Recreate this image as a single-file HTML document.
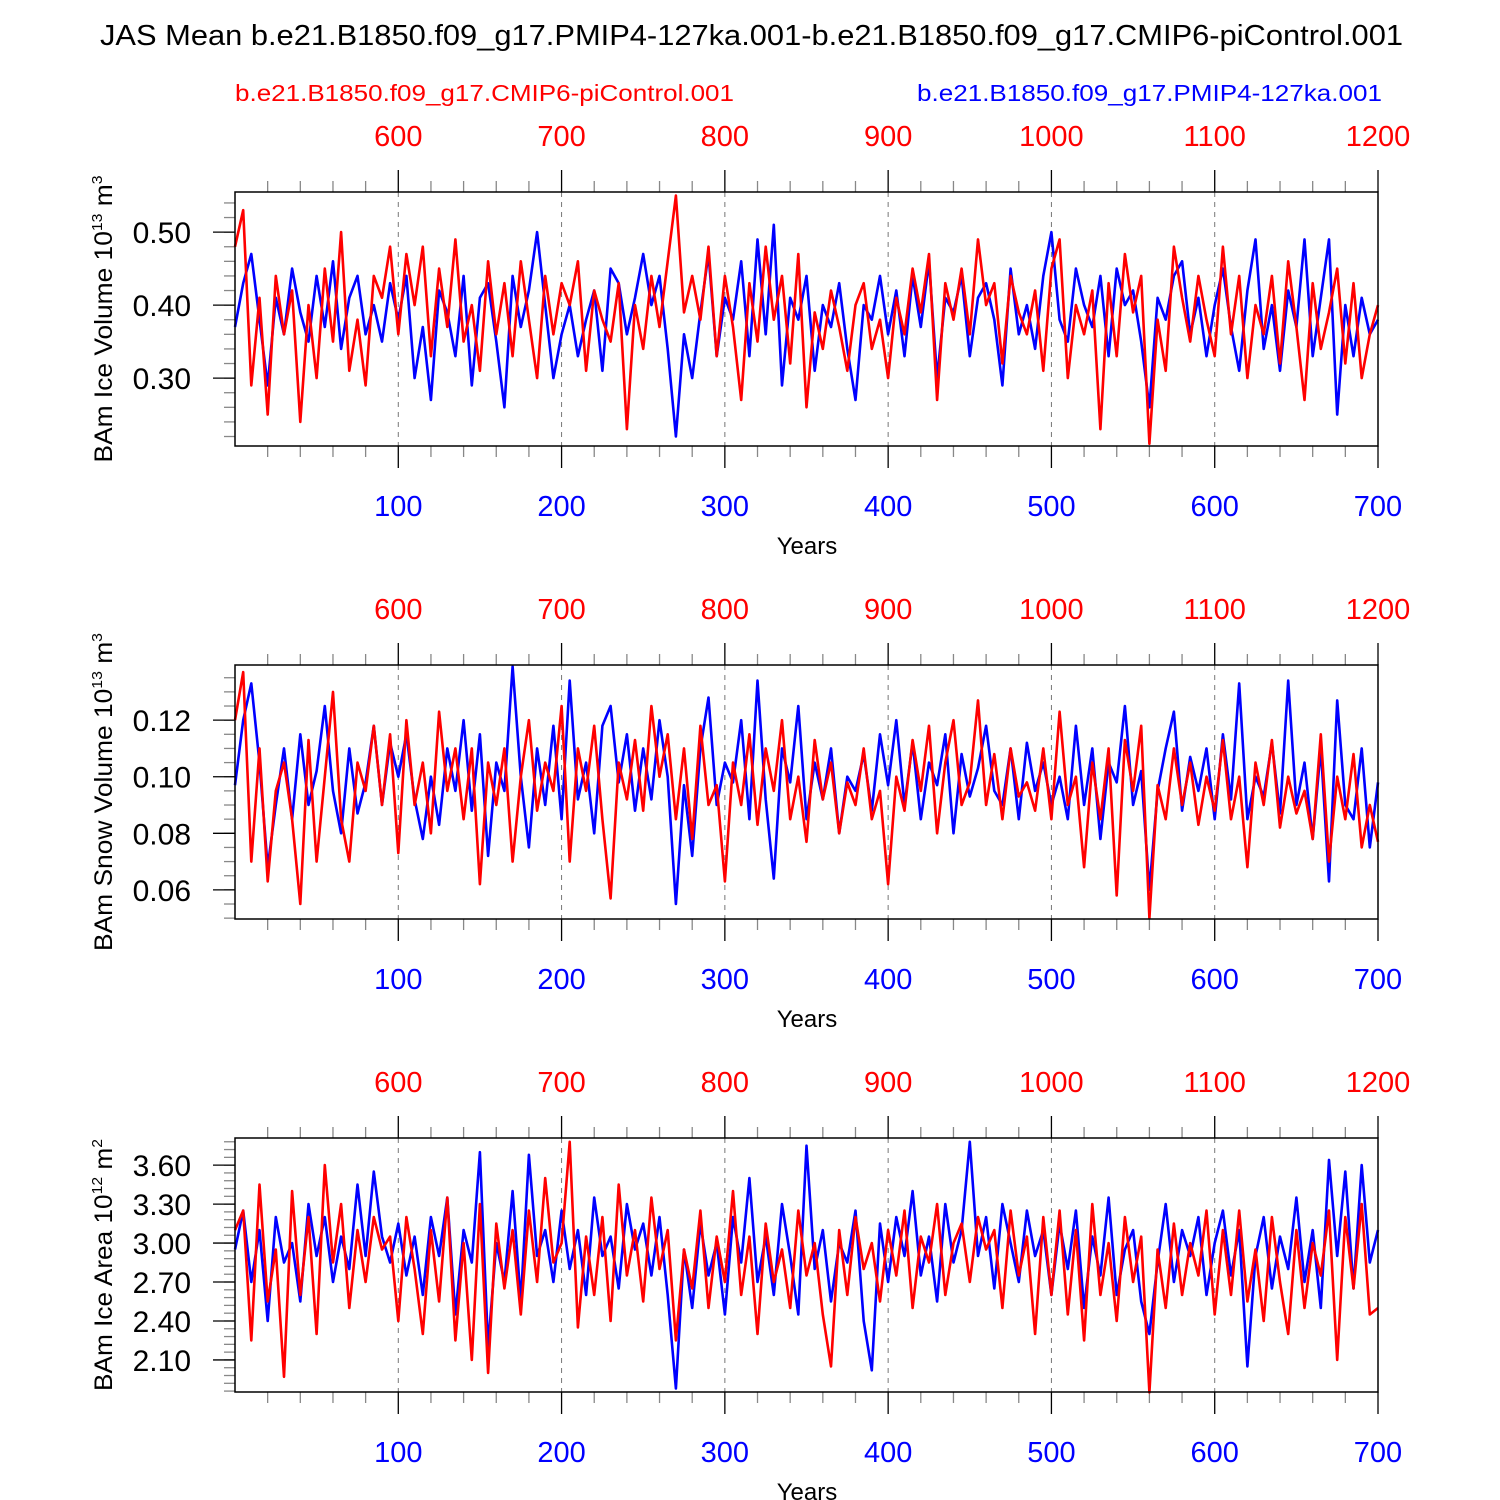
<!DOCTYPE html>
<html><head><meta charset="utf-8"><style>
html,body{margin:0;padding:0;background:#fff}
svg{display:block;font-family:"Liberation Sans",Arial,sans-serif}
</style></head><body>
<svg id="chart" width="1500" height="1500" viewBox="0 0 1500 1500">
<text x="100" y="45" textLength="1303" lengthAdjust="spacingAndGlyphs" font-size="29" fill="#000">JAS Mean b.e21.B1850.f09_g17.PMIP4-127ka.001-b.e21.B1850.f09_g17.CMIP6-piControl.001</text>
<text x="235" y="101" textLength="499" lengthAdjust="spacingAndGlyphs" font-size="23" fill="#f00">b.e21.B1850.f09_g17.CMIP6-piControl.001</text>
<text x="917" y="101" textLength="465" lengthAdjust="spacingAndGlyphs" font-size="23" fill="#00f">b.e21.B1850.f09_g17.PMIP4-127ka.001</text>
</svg>
<script>
const years=[100,200,300,400,500,600,700];
const topYears=[600,700,800,900,1000,1100,1200];
const iceVolTicks=[0.30,0.40,0.50];
const snowVolTicks=[0.06,0.08,0.10,0.12];
const iceAreaTicks=[2.10,2.40,2.70,3.00,3.30,3.60];
const iceVolBlue=[0.37,0.43,0.47,0.38,0.29,0.41,0.36,0.45,0.39,0.35,0.44,0.37,0.46,0.34,0.41,0.44,0.36,0.40,0.35,0.43,0.38,
0.44,0.30,0.37,0.27,0.42,0.39,0.33,0.44,0.29,0.41,0.43,0.35,0.26,0.44,0.37,0.42,0.50,0.40,0.30,0.36,
0.40,0.33,0.38,0.42,0.31,0.45,0.43,0.36,0.41,0.47,0.40,0.44,0.34,0.22,0.36,0.30,0.39,0.47,0.33,0.41,
0.38,0.46,0.33,0.49,0.36,0.51,0.29,0.41,0.38,0.44,0.31,0.40,0.37,0.43,0.34,0.27,0.40,0.38,0.44,0.36,
0.42,0.33,0.44,0.37,0.46,0.30,0.41,0.39,0.44,0.33,0.41,0.43,0.38,0.29,0.45,0.36,0.40,0.34,0.44,0.50,
0.38,0.35,0.45,0.40,0.37,0.44,0.33,0.45,0.40,0.42,0.35,0.26,0.41,0.38,0.44,0.46,0.36,0.41,0.33,0.40,
0.45,0.37,0.31,0.42,0.49,0.34,0.40,0.31,0.42,0.37,0.49,0.33,0.41,0.49,0.25,0.40,0.33,0.41,0.36,0.38];
const iceVolRed=[0.48,0.53,0.29,0.41,0.25,0.44,0.36,0.42,0.24,0.40,0.30,0.45,0.35,0.50,0.31,0.38,0.29,0.44,0.41,0.48,0.36,
0.47,0.40,0.48,0.33,0.45,0.37,0.49,0.35,0.40,0.31,0.46,0.36,0.43,0.33,0.46,0.38,0.30,0.44,0.36,0.43,
0.40,0.46,0.31,0.42,0.38,0.35,0.43,0.23,0.40,0.34,0.44,0.37,0.46,0.55,0.39,0.44,0.38,0.48,0.33,0.44,
0.37,0.27,0.43,0.35,0.48,0.38,0.44,0.32,0.47,0.26,0.39,0.34,0.42,0.37,0.31,0.40,0.43,0.34,0.38,0.30,
0.41,0.36,0.45,0.39,0.47,0.27,0.43,0.38,0.45,0.36,0.49,0.40,0.43,0.32,0.44,0.39,0.36,0.42,0.31,0.45,
0.49,0.30,0.40,0.36,0.42,0.23,0.43,0.33,0.47,0.39,0.44,0.21,0.38,0.31,0.48,0.41,0.35,0.44,0.38,0.33,
0.48,0.36,0.44,0.30,0.40,0.36,0.44,0.32,0.46,0.37,0.27,0.43,0.34,0.39,0.45,0.32,0.43,0.30,0.36,0.40];
const snowVolBlue=[0.097,0.12,0.133,0.105,0.068,0.09,0.11,0.085,0.115,0.09,0.102,0.125,0.095,0.08,0.11,0.087,0.098,0.118,0.09,0.112,0.10,
0.115,0.092,0.078,0.10,0.083,0.11,0.095,0.12,0.088,0.115,0.072,0.105,0.095,0.139,0.10,0.075,0.11,0.09,0.118,0.085,
0.134,0.092,0.105,0.08,0.118,0.125,0.098,0.115,0.088,0.11,0.092,0.12,0.10,0.055,0.097,0.072,0.11,0.128,0.09,0.105,
0.098,0.12,0.085,0.134,0.092,0.064,0.11,0.098,0.125,0.085,0.105,0.092,0.11,0.08,0.10,0.095,0.108,0.088,0.115,0.097,
0.12,0.09,0.112,0.085,0.105,0.097,0.115,0.08,0.108,0.093,0.103,0.118,0.095,0.09,0.11,0.085,0.112,0.095,0.105,0.09,
0.10,0.085,0.118,0.09,0.11,0.078,0.105,0.098,0.125,0.09,0.102,0.06,0.095,0.11,0.123,0.088,0.107,0.095,0.11,0.085,
0.115,0.092,0.133,0.085,0.10,0.093,0.112,0.087,0.134,0.09,0.105,0.078,0.11,0.063,0.127,0.09,0.085,0.11,0.075,0.098];
const snowVolRed=[0.12,0.137,0.07,0.11,0.063,0.095,0.105,0.085,0.055,0.113,0.07,0.10,0.13,0.085,0.07,0.105,0.095,0.118,0.09,0.115,0.073,
0.12,0.09,0.105,0.08,0.123,0.095,0.11,0.085,0.11,0.062,0.105,0.09,0.11,0.07,0.10,0.12,0.088,0.105,0.095,0.125,
0.07,0.11,0.095,0.118,0.085,0.057,0.105,0.092,0.113,0.088,0.125,0.10,0.115,0.085,0.11,0.078,0.118,0.09,0.097,0.063,
0.105,0.09,0.115,0.083,0.11,0.095,0.12,0.085,0.10,0.077,0.113,0.092,0.105,0.08,0.098,0.09,0.11,0.085,0.095,0.062,
0.10,0.088,0.113,0.095,0.118,0.08,0.105,0.12,0.09,0.098,0.127,0.09,0.108,0.085,0.11,0.093,0.098,0.088,0.11,0.085,
0.123,0.09,0.10,0.068,0.105,0.085,0.11,0.058,0.113,0.095,0.118,0.05,0.097,0.085,0.11,0.09,0.105,0.083,0.10,0.088,
0.113,0.085,0.10,0.068,0.105,0.09,0.113,0.082,0.10,0.087,0.095,0.078,0.115,0.07,0.10,0.085,0.108,0.075,0.09,0.077];
const iceAreaBlue=[2.95,3.25,2.7,3.1,2.4,3.2,2.85,3.0,2.55,3.3,2.9,3.2,2.7,3.05,2.8,3.45,2.9,3.55,3.05,2.85,3.15,
2.75,3.05,2.6,3.2,2.9,3.35,2.45,3.1,2.85,3.7,2.2,3.0,2.7,3.4,2.55,3.68,2.9,3.1,2.7,3.25,
2.8,3.1,2.6,3.35,2.9,3.05,2.65,3.3,2.95,3.15,2.75,3.2,2.6,1.88,2.95,2.5,3.15,2.75,3.0,2.45,
3.2,2.85,3.5,2.7,3.05,2.6,3.3,2.9,2.45,3.75,2.8,3.1,2.55,3.0,2.85,3.25,2.4,2.02,3.15,2.7,
3.2,2.9,3.4,2.75,3.05,2.55,3.3,2.85,3.1,3.78,2.9,3.2,2.65,3.3,3.0,2.7,3.25,2.9,3.1,2.6,
3.15,2.8,3.25,2.5,3.05,2.75,3.35,2.6,2.95,3.1,2.55,2.3,2.85,3.3,2.7,3.1,2.9,3.2,2.6,3.0,
3.25,2.75,3.1,2.05,2.9,3.2,2.65,3.05,2.8,3.35,2.7,3.1,2.5,3.64,2.9,3.55,2.65,3.6,2.85,3.1];
const iceAreaRed=[3.1,3.25,2.25,3.45,2.55,2.95,1.97,3.4,2.6,3.2,2.3,3.6,2.85,3.3,2.5,3.1,2.7,3.2,2.95,3.05,2.4,
3.2,2.8,2.3,3.1,2.55,3.35,2.25,3.0,2.1,3.3,2.0,3.15,2.65,3.1,2.45,3.25,2.7,3.5,2.85,3.0,
3.78,2.35,3.05,2.6,3.2,2.4,3.45,2.75,3.1,2.55,3.35,2.8,3.1,2.25,2.95,2.65,3.25,2.5,3.05,2.7,
3.4,2.6,3.05,2.3,3.15,2.7,2.95,2.5,3.25,2.75,3.0,2.45,2.05,3.1,2.6,3.2,2.8,3.0,2.55,3.1,
2.75,3.25,2.5,3.05,2.85,3.3,2.6,3.0,3.15,2.7,3.2,2.95,3.1,2.5,3.25,2.75,3.05,2.3,3.2,2.6,
3.25,2.45,3.1,2.25,3.3,2.6,3.0,2.4,3.2,2.7,3.05,1.85,2.95,2.5,3.15,2.6,3.0,2.75,3.25,2.45,
3.1,2.6,3.25,2.55,2.95,2.4,3.2,2.7,2.3,3.1,2.5,3.0,2.75,3.25,2.1,3.2,2.65,3.3,2.45,2.5];

const NS='http://www.w3.org/2000/svg';
const svg=document.getElementById('chart');
function mk(tag,attrs,parent){const e=document.createElementNS(NS,tag);for(const k in attrs)e.setAttribute(k,attrs[k]);(parent||svg).appendChild(e);return e;}
const X0=235,X1=1378;
function xs(yr){return X0+(yr/700)*(X1-X0);}

const panels=[
 {top:192,ymin:0.207,ymax:0.555,ticks:iceVolTicks,minor:0.02,dec:2,blue:iceVolBlue,red:iceVolRed,title:'BAm Ice Volume 10',exp:'13',unit:' m',uexp:'3',name:'ice-volume',tl:287},
 {top:665,ymin:0.0497,ymax:0.1395,ticks:snowVolTicks,minor:0.005,dec:2,blue:snowVolBlue,red:snowVolRed,title:'BAm Snow Volume 10',exp:'13',unit:' m',uexp:'3',name:'snow-volume',tl:318},
 {top:1138,ymin:1.853,ymax:3.809,ticks:iceAreaTicks,minor:0.06,dec:2,blue:iceAreaBlue,red:iceAreaRed,title:'BAm Ice Area 10',exp:'12',unit:' m',uexp:'2',name:'ice-area',tl:252}
];
const H=254;
panels.forEach(p=>{
 const g=mk('g',{});
 
 
 const Y0=p.top,Y1=p.top+H;
 const ys=v=>Y1-(v-p.ymin)/(p.ymax-p.ymin)*H;
 years.slice(0,6).forEach(yr=>{const l=mk('line',{x1:xs(yr),x2:xs(yr),y1:Y0,y2:Y1,stroke:'#777','stroke-width':1,'stroke-dasharray':'5,5'},g);
  
  });
 for(let yr=20;yr<700;yr+=20){if(yr%100===0)continue;const x=xs(yr);
  mk('line',{x1:x,x2:x,y1:Y1,y2:Y1+11,stroke:'#888','stroke-width':1.3},g);
  mk('line',{x1:x,x2:x,y1:Y0,y2:Y0-11,stroke:'#888','stroke-width':1.3},g);}
 years.forEach((yr,i)=>{const x=xs(yr);
  mk('line',{x1:x,x2:x,y1:Y1,y2:Y1+22,stroke:'#000','stroke-width':1.3},g);
  mk('line',{x1:x,x2:x,y1:Y0,y2:Y0-22,stroke:'#000','stroke-width':1.3},g);
  const t=mk('text',{x:x,y:Y1+70,'text-anchor':'middle','font-size':29,fill:'#00f'},g);t.textContent=yr;
  
  
  const t2=mk('text',{x:x,y:Y0-46,'text-anchor':'middle','font-size':29,fill:'#f00'},g);t2.textContent=topYears[i];
  
  });
 const start=Math.ceil(p.ymin/p.minor-1e-6);
 for(let k=start;k*p.minor<=p.ymax;k++){const y=ys(k*p.minor);
  mk('line',{x1:X0-11,x2:X0,y1:y,y2:y,stroke:'#888','stroke-width':1.3},g);}
 p.ticks.forEach(v=>{const y=ys(v);
  mk('line',{x1:X0-22,x2:X0,y1:y,y2:y,stroke:'#000','stroke-width':1.3},g);
  const t=mk('text',{x:X0-44,y:y+11,'text-anchor':'end','font-size':30,fill:'#000'},g);t.textContent=v.toFixed(p.dec);
  
  });
 [[p.blue,'#00f','series-127ka'],[p.red,'#f00','series-picontrol']].forEach(([arr,col,nm])=>{
  const step=700/(arr.length-1);
  const d=arr.map((v,i)=>(i?'L':'M')+xs(i*step).toFixed(1)+','+ys(v).toFixed(1)).join('');
  const path=mk('path',{d:d,fill:'none',stroke:col,'stroke-width':2.6,'stroke-linejoin':'round'},g);
  
  
 });
 const fr=mk('rect',{x:X0,y:Y0,width:X1-X0,height:H,fill:'none',stroke:'#000','stroke-width':1.5},g);
 
 
 const xt=mk('text',{x:807,y:Y1+108,'text-anchor':'middle','font-size':24,fill:'#000'},g);xt.textContent='Years';
 
 
 const cy=Y0+H/2;
 const yt=mk('text',{x:0,y:0,'text-anchor':'middle','font-size':25,fill:'#000',textLength:p.tl,lengthAdjust:'spacingAndGlyphs',transform:'translate(112,'+cy+') rotate(-90)'},g);
 yt.innerHTML=p.title+'<tspan dy="-10" font-size="15">'+p.exp+'</tspan><tspan dy="10">'+p.unit+'</tspan><tspan dy="-10" font-size="15">'+p.uexp+'</tspan>';
 
 
});
</script>
</body></html>
